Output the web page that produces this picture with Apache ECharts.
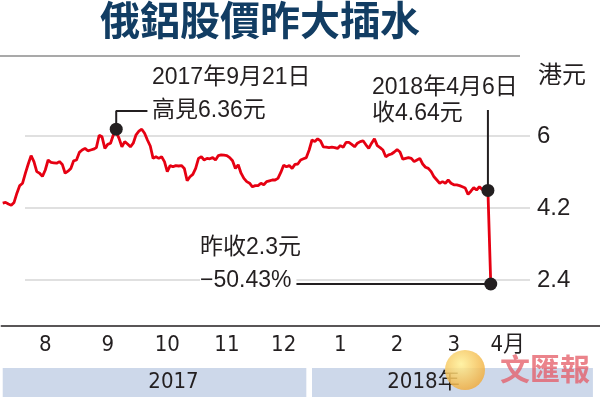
<!DOCTYPE html>
<html><head><meta charset="utf-8">
<script src="https://cdn.jsdelivr.net/npm/echarts@6/dist/echarts.min.js"></script>
<style>html,body{margin:0;padding:0;background:#fff}#c{width:600px;height:398px}</style>
</head><body><div id="c"></div>
<script>
// ---- data ----
const titleText = '俄鋁股價昨大插水';
const monthLabels = ['', '8', '9', '10', '11', '12', '1', '2', '3', '4月'];
// trading days per month: late Jul 2017, Aug ... Mar 2018, Apr 2018
const monthTradingDays = [4, 23, 21, 20, 22, 18, 22, 19, 20, 19];
const trailingBlankDays = 23;
const yearLabels = ['2017', '2018年'];
const yTickLabels = [2.4, 4.2, 6];
const unitLabel = '港元';
// daily closes (HK$), 26 Jul 2017 -> 9 Apr 2018
const prices = [
  4.32, 4.34, 4.30, 4.27, 4.34, 4.57, 4.76, 4.82, 5.07, 5.30,
  5.51, 5.36, 5.11, 5.07, 4.99, 5.15, 5.40, 5.34, 5.33, 5.32,
  5.36, 5.29, 5.07, 5.12, 5.19, 5.38, 5.40, 5.59, 5.65, 5.69,
  5.63, 5.65, 5.67, 5.71, 6.02, 5.98, 5.69, 5.79, 5.82, 6.03,
  6.10, 5.94, 5.73, 5.86, 5.80, 5.73, 5.82, 6.03, 6.12, 6.17,
  6.07, 5.90, 5.75, 5.44, 5.48, 5.44, 5.48, 5.36, 5.11, 5.26,
  5.23, 5.26, 5.25, 5.26, 5.19, 4.88, 4.98, 5.04, 5.19, 5.44,
  5.48, 5.40, 5.44, 5.43, 5.46, 5.40, 5.51, 5.53, 5.52, 5.51,
  5.46, 5.38, 5.19, 5.28, 5.07, 4.94, 4.86, 4.82, 4.73, 4.76,
  4.76, 4.82, 4.78, 4.86, 4.88, 4.90, 4.90, 4.94, 5.09, 5.27,
  5.23, 5.26, 5.19, 5.29, 5.30, 5.40, 5.43, 5.46, 5.65, 5.90,
  5.86, 5.93, 5.88, 5.73, 5.72, 5.71, 5.72, 5.71, 5.69, 5.76,
  5.72, 5.84, 5.84, 5.79, 5.73, 5.82, 5.86, 5.88, 5.78, 5.69,
  5.82, 5.93, 5.76, 5.71, 5.65, 5.48, 5.53, 5.55, 5.60, 5.66,
  5.60, 5.42, 5.44, 5.46, 5.44, 5.36, 5.40, 5.44, 5.30, 5.22,
  5.19, 5.11, 4.98, 4.90, 4.82, 4.86, 4.82, 4.90, 4.82, 4.78,
  4.78, 4.76, 4.73, 4.70, 4.54, 4.62, 4.71, 4.65, 4.73, 4.66,
  4.70, 4.64, 2.30
];
// highlighted points: [trading-day index, price]
const highPoint = [40, 6.17];
const lastClosePoint = [171, 4.64];
const crashPoint = [172, 2.30];
const highTexts = ['2017年9月21日', '高見6.36元'];
const lastCloseTexts = ['2018年4月6日', '收4.64元'];
const crashTexts = ['昨收2.3元', '−50.43%'];
// leader-line ends (data units)
const highLeaderTop = 6.625, highLeaderEndDay = 51;
const lastLeaderTop = 6.65;
const crashLeaderEndDay = 103;

// ---- build axis helpers ----
const categories = [];
const tickStarts = new Set();
const labelAt = {};
let idx = 0;
monthTradingDays.forEach((n, m) => {
  if (m > 0) { tickStarts.add(idx); labelAt[idx + Math.floor(n / 2)] = monthLabels[m]; }
  for (let d = 0; d < n; d++) categories.push('t' + (idx + d));
  idx += n;
});
for (let d = 0; d < trailingBlankDays; d++) categories.push('t' + (idx + d));
const janStart = monthTradingDays.slice(0, 6).reduce((a, b) => a + b, 0);

const INK = '#231f20';
const RED = '#e60012';
const SANS = '"Liberation Sans","Noto Sans CJK TC",sans-serif';
const NARROW = '"Liberation Sans Narrow","DejaVu Sans Condensed","Liberation Sans","Noto Sans CJK TC",sans-serif';
const annFont = '23px ' + SANS;

function txt(text, x, y, font, extra) {
  return { type: 'text', x: x, y: y, silent: true, z: 50,
    style: Object.assign({ text: text, font: font || annFont, fill: INK, textVerticalAlign: 'middle', verticalAlign: 'middle' }, extra || {}) };
}

const chart = echarts.init(document.getElementById('c'));
chart.setOption({
  animation: false,
  backgroundColor: '#fff',
  title: { text: titleText, left: 100, top: 0, padding: 0,
    textStyle: { fontSize: 40, fontWeight: 'bold', color: '#123d63', fontFamily: '"Noto Sans CJK TC",sans-serif' } },
  grid: [
    { left: 1.3, right: -2.65, top: 64, bottom: 72 },
    { left: 25, right: 70, top: 96, bottom: 46 },
    { left: 1.3, right: -2.65, top: 368, height: 29 }
  ],
  xAxis: [
    { gridIndex: 0, type: 'category', data: categories, boundaryGap: true,
      axisLine: { lineStyle: { color: INK, width: 1.5 } },
      axisTick: { inside: true, length: 7, interval: (i) => tickStarts.has(i), lineStyle: { color: INK, width: 1.5 } },
      axisLabel: { interval: (i) => labelAt[i] !== undefined, formatter: (v, i) => labelAt[i] || '',
        margin: 8, fontSize: 22, color: INK, fontFamily: NARROW } },
    { gridIndex: 1, type: 'value', show: false, min: 0, max: 1 },
    { gridIndex: 2, type: 'category', data: categories, show: false }
  ],
  yAxis: [
    { gridIndex: 0, type: 'value', show: false, min: 1.25, max: 7.8 },
    { gridIndex: 1, type: 'value', position: 'right', min: 0.6, max: 7.0, interval: 1.8,
      axisLine: { show: false }, axisTick: { show: false },
      axisLabel: { margin: 7, fontSize: 24, color: INK, fontFamily: SANS,
        formatter: (v) => yTickLabels.some(t => Math.abs(t - v) < 1e-6) ? String(+v.toFixed(1)) : '' },
      splitLine: { show: true, showMinLine: false, showMaxLine: false, lineStyle: { color: '#d6d6d6', width: 1.5 } } },
    { gridIndex: 2, type: 'value', show: false, min: 0, max: 1 }
  ],
  series: [
    { type: 'line', xAxisIndex: 0, yAxisIndex: 0, data: prices, symbol: 'none', silent: true,
      lineStyle: { color: RED, width: 2.8 }, z: 3 },
    { type: 'line', xAxisIndex: 0, yAxisIndex: 0, symbol: 'none', silent: true, z: 4,
      lineStyle: { color: INK, width: 2 },
      data: [highPoint, [highPoint[0], highLeaderTop], [highLeaderEndDay, highLeaderTop]] },
    { type: 'line', xAxisIndex: 0, yAxisIndex: 0, symbol: 'none', silent: true, z: 4,
      lineStyle: { color: INK, width: 2 },
      data: [lastClosePoint, [lastClosePoint[0], lastLeaderTop]] },
    { type: 'line', xAxisIndex: 0, yAxisIndex: 0, symbol: 'none', silent: true, z: 4,
      lineStyle: { color: INK, width: 2 },
      data: [crashPoint, [crashLeaderEndDay, crashPoint[1]]] },
    { type: 'scatter', xAxisIndex: 0, yAxisIndex: 0, silent: true, z: 6,
      symbolSize: 13, itemStyle: { color: INK, opacity: 1 },
      data: [highPoint, lastClosePoint, crashPoint] },
    { type: 'line', xAxisIndex: 2, yAxisIndex: 2, data: [], silent: true,
      markArea: { silent: true,
        itemStyle: { color: '#cdd8ea' },
        label: { show: true, position: 'inside', fontSize: 22, color: INK, fontFamily: NARROW },
        data: [
          [{ name: yearLabels[0], xAxis: categories[0], yAxis: 0, label: { offset: [19, 0] } }, { xAxis: categories[janStart - 1], yAxis: 1 }],
          [{ name: yearLabels[1], xAxis: categories[janStart + 1], yAxis: 0, label: { offset: [-29, 0] } }, { xAxis: categories[categories.length - 3], yAxis: 1 }]
        ] } }
  ],
  graphic: [
    { type: 'line', silent: true, shape: { x1: 0, y1: 56, x2: 520, y2: 56 }, style: { stroke: '#8c8c8c', lineWidth: 1.5 } },
    txt(unitLabel, 538, 76, '24px ' + SANS),
    txt(highTexts[0], 152, 78), txt(highTexts[1], 152, 111),
    txt(lastCloseTexts[0], 372, 88), txt(lastCloseTexts[1], 372, 114),
    txt(crashTexts[0], 200, 248), txt(crashTexts[1], 200, 281, null, { backgroundColor: '#fff', padding: [0, 5, 0, 0] }),
    { type: 'circle', silent: true, z: 100, shape: { cx: 465, cy: 370, r: 20 },
      style: { fill: { type: 'radial', x: 0.4, y: 0.35, r: 0.7,
        colorStops: [{ offset: 0, color: 'rgba(255,240,150,0.85)' }, { offset: 1, color: 'rgba(240,170,60,0.85)' }] } } },
    { type: 'text', silent: true, z: 100, x: 500, y: 369,
      style: { text: '文匯報', font: 'bold 30px "Noto Sans CJK TC",sans-serif', fill: 'rgba(228,90,100,0.75)', textVerticalAlign: 'middle', verticalAlign: 'middle' } }
  ]
});
</script>
</body></html>
